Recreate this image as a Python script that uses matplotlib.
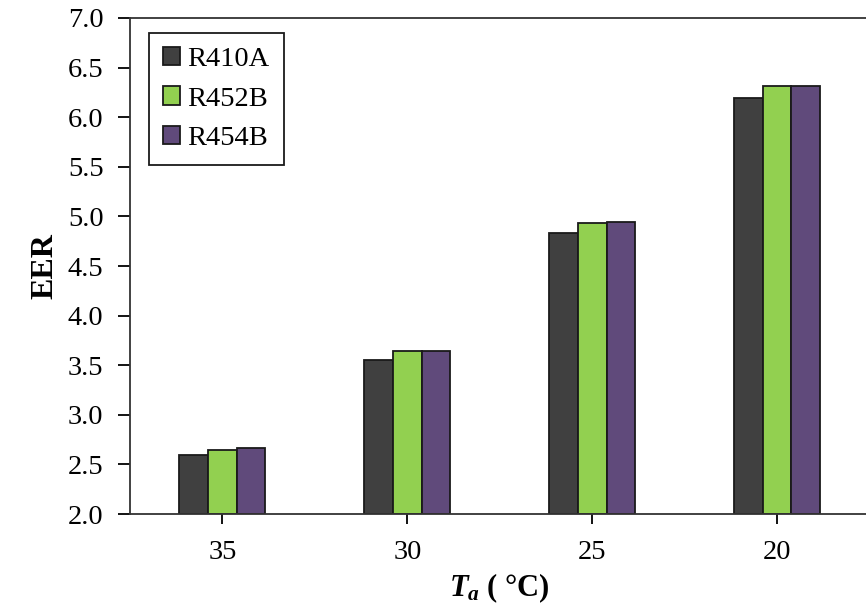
import matplotlib
matplotlib.use("Agg")
import matplotlib.pyplot as plt
import numpy as np

plt.rcParams['font.family'] = ['Liberation Serif', 'DejaVu Serif']
plt.rcParams['mathtext.fontset'] = 'custom'
plt.rcParams['mathtext.rm'] = 'Liberation Serif'
plt.rcParams['mathtext.it'] = 'Liberation Serif:italic'
plt.rcParams['mathtext.bf'] = 'Liberation Serif:bold'
plt.rcParams['mathtext.bfit'] = 'Liberation Serif:italic:bold'

# Dados
temperaturas = ["35", "30", "25", "20"]
r410a = [2.59, 3.55, 4.83, 6.19]
r452b = [2.65, 3.64, 4.93, 6.31]
r454b = [2.67, 3.64, 4.94, 6.31]
series = ["R410A", "R452B", "R454B"]
cores = ["#404040", "#92d050", "#604a7b"]

fig = plt.figure(figsize=(8.66, 6.06), dpi=100)
ax = fig.add_axes([0.1501, 0.1518, 0.854, 0.8185])

x = np.arange(len(temperaturas))
largura = 0.155
for i, (nome, valores) in enumerate(zip(series, [r410a, r452b, r454b])):
    ax.bar(x + (i - 1) * largura, np.array(valores) - 2.0, bottom=2.0, width=largura,
           color=cores[i], edgecolor="#1a1a1a", linewidth=1.3, label=nome)

ax.set_xlim(-0.5, len(temperaturas) - 0.5)
ax.set_ylim(2.0, 7.0)
ax.set_yticks(np.arange(2.0, 7.01, 0.5))
ax.set_yticklabels([f"{v:.1f}" for v in np.arange(2.0, 7.01, 0.5)])
ax.set_xticks(x)
ax.set_xticklabels(temperaturas)

ax.tick_params(axis="y", direction="out", length=9, width=1.3, pad=10, labelsize=20.5)
ax.tick_params(axis="x", direction="out", length=7, width=1.3, pad=12, labelsize=20.5)
for lado in ["left", "top", "bottom", "right"]:
    ax.spines[lado].set_linewidth(1.3)
    ax.spines[lado].set_color("#333333")

ax.set_ylabel("EER", fontsize=23, fontweight="bold", labelpad=6)
ax.set_xlabel(r"$\mathbfit{T}_{\mathbfit{a}}$ ( °C)", fontsize=22, fontweight="bold", labelpad=4)

leg = ax.legend(loc="upper left", bbox_to_anchor=(0.0257, 0.970), borderaxespad=0,
                fontsize=20.5, fancybox=False, frameon=True, edgecolor="#1a1a1a",
                handlelength=0.6, handleheight=0.6, handletextpad=0.25,
                borderpad=0.5, labelspacing=0.5)
leg.get_frame().set_linewidth(1.3)
leg.get_frame().set_alpha(1)

fig.savefig("out.png", dpi=100)
